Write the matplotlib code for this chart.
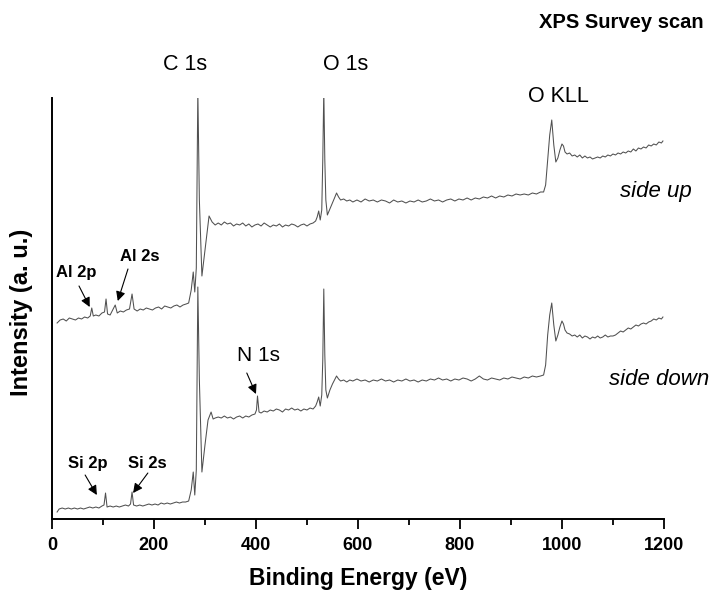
import matplotlib.pyplot as plt
import numpy as np

plt.rcParams['font.family'] = ['Liberation Sans', 'DejaVu Sans']

# (binding energy eV, intensity a.u.)
side_up = [
    (10, 197), (16, 200), (22, 201), (28, 199), (34, 202), (40, 201), (46, 200), (52, 202),
    (58, 201), (64, 203), (70, 202), (75, 204), (78, 212), (81, 204), (86, 205), (92, 204),
    (98, 207), (103, 208), (106, 221), (109, 206), (114, 205), (119, 210), (124, 215),
    (128, 207), (134, 209), (140, 208), (146, 210), (152, 211), (157, 226), (161, 211),
    (167, 209), (173, 211), (179, 210), (185, 212), (191, 211), (197, 210), (203, 212),
    (209, 213), (215, 211), (221, 214), (227, 213), (233, 212), (239, 214), (245, 215),
    (251, 213), (257, 215), (263, 216), (268, 217), (273, 230), (277, 248), (280, 228),
    (283, 252), (286, 430), (289, 320), (294, 244), (300, 270), (308, 304), (314, 298),
    (320, 295), (326, 297), (332, 295), (338, 298), (344, 296), (350, 297), (356, 294),
    (362, 296), (368, 295), (374, 297), (380, 294), (386, 296), (392, 293), (398, 295),
    (404, 296), (410, 294), (416, 297), (422, 295), (428, 293), (434, 295), (440, 294),
    (446, 296), (452, 293), (458, 295), (464, 294), (470, 296), (476, 295), (482, 293),
    (488, 295), (494, 296), (500, 294), (506, 296), (512, 297), (517, 299), (520, 303),
    (523, 309), (526, 300), (529, 310), (531, 360), (533, 430), (535, 360), (537, 320),
    (540, 305), (545, 311), (550, 317), (554, 322), (558, 327), (562, 323), (566, 320),
    (572, 321), (578, 319), (584, 320), (590, 318), (598, 320), (606, 318), (614, 321),
    (622, 319), (630, 320), (638, 318), (646, 320), (654, 319), (662, 317), (670, 320),
    (678, 318), (686, 319), (694, 317), (702, 319), (710, 318), (718, 320), (726, 318),
    (734, 319), (742, 321), (750, 319), (758, 320), (766, 318), (774, 320), (782, 321),
    (790, 319), (798, 321), (806, 320), (814, 322), (822, 320), (830, 322), (838, 321),
    (846, 323), (854, 322), (862, 324), (870, 322), (878, 324), (886, 323), (894, 325),
    (902, 324), (910, 326), (918, 325), (926, 326), (934, 325), (942, 327), (950, 326),
    (958, 328), (964, 328), (968, 335), (972, 360), (976, 385), (980, 400), (984, 375),
    (988, 358), (992, 362), (996, 370), (1000, 376), (1003, 374), (1006, 368), (1010, 366),
    (1015, 367), (1020, 364), (1025, 365), (1030, 363), (1035, 365), (1040, 362),
    (1045, 364), (1050, 362), (1055, 363), (1060, 361), (1065, 362), (1070, 363),
    (1075, 362), (1080, 364), (1085, 363), (1090, 365), (1095, 364), (1100, 366),
    (1105, 365), (1110, 367), (1115, 366), (1120, 368), (1125, 367), (1130, 369),
    (1135, 368), (1140, 371), (1145, 369), (1150, 372), (1155, 371), (1160, 373),
    (1165, 372), (1170, 375), (1175, 374), (1180, 376), (1185, 375), (1190, 378),
    (1195, 377), (1198, 379),
]

side_down = [
    (10, 8), (14, 11), (20, 12), (26, 11), (32, 12), (38, 11), (44, 12), (50, 11), (56, 12),
    (62, 11), (68, 12), (74, 13), (80, 12), (86, 13), (92, 12), (98, 14), (102, 15),
    (105, 27), (108, 13), (114, 14), (120, 13), (126, 14), (132, 13), (138, 14), (144, 15),
    (150, 14), (154, 16), (157, 28), (160, 15), (166, 14), (172, 15), (178, 14), (184, 15),
    (190, 16), (196, 15), (202, 16), (208, 15), (214, 17), (220, 16), (226, 17), (232, 16),
    (238, 17), (244, 18), (250, 17), (256, 18), (262, 18), (268, 19), (273, 30), (277, 48),
    (280, 25), (283, 50), (286, 233), (289, 140), (294, 48), (300, 75), (306, 100),
    (312, 108), (316, 101), (320, 102), (326, 103), (332, 102), (338, 104), (344, 102),
    (350, 103), (356, 101), (362, 103), (368, 104), (374, 102), (380, 104), (386, 103),
    (392, 105), (398, 106), (401, 110), (403, 124), (406, 108), (410, 107), (416, 109),
    (422, 108), (428, 110), (434, 109), (440, 111), (446, 110), (452, 108), (458, 111),
    (464, 110), (470, 112), (476, 110), (482, 111), (488, 109), (494, 111), (500, 110),
    (506, 112), (512, 111), (517, 114), (520, 118), (523, 123), (526, 114), (529, 125),
    (531, 160), (533, 231), (535, 165), (537, 130), (540, 122), (545, 130), (550, 136),
    (554, 140), (558, 144), (562, 141), (566, 139), (572, 140), (578, 138), (584, 140),
    (590, 139), (598, 141), (606, 139), (614, 140), (622, 138), (630, 140), (638, 139),
    (646, 141), (654, 139), (662, 140), (670, 138), (678, 140), (686, 139), (694, 141),
    (702, 139), (710, 140), (718, 138), (726, 140), (734, 139), (742, 141), (750, 140),
    (758, 142), (766, 140), (774, 141), (782, 139), (790, 141), (798, 140), (806, 142),
    (814, 141), (822, 139), (830, 141), (838, 144), (846, 141), (854, 140), (862, 142),
    (870, 141), (878, 140), (886, 142), (894, 141), (902, 143), (910, 142), (918, 141),
    (926, 143), (934, 142), (942, 144), (950, 143), (958, 144), (964, 145), (968, 155),
    (972, 185), (976, 205), (980, 217), (984, 195), (988, 179), (992, 185), (996, 193),
    (1000, 199), (1003, 196), (1006, 190), (1010, 187), (1015, 186), (1020, 184),
    (1025, 185), (1030, 183), (1035, 185), (1040, 182), (1045, 184), (1050, 183),
    (1055, 181), (1060, 183), (1065, 182), (1070, 184), (1075, 182), (1080, 183),
    (1085, 185), (1090, 183), (1095, 184), (1100, 184), (1105, 185), (1110, 187),
    (1115, 189), (1120, 188), (1125, 190), (1130, 192), (1135, 191), (1140, 193),
    (1145, 195), (1150, 194), (1155, 196), (1160, 197), (1165, 196), (1170, 198),
    (1175, 199), (1180, 201), (1185, 200), (1190, 202), (1195, 201), (1198, 203),
]

# big peak labels: (text, energy, intensity)
peak_names = [('C 1s', 261, 455), ('O 1s', 575, 455), ('O KLL', 994, 423)]
# small peaks with arrows: (text, text pos, arrow start, arrow tip)
arrow_labels = [
    ('Al 2p', (47, 247), (53, 234), (74, 213)),
    ('Al 2s', (172, 263), (149, 251), (129, 219)),
    ('Si 2p', (71, 57), (65, 45), (88, 25)),
    ('Si 2s', (186, 57), (188, 47), (159, 27)),
]
n1s_label = ('N 1s', (404, 165), (382, 147), (400, 126))
sample_names = [('side up', 1184, 328), ('side down', 1190, 141)]

fig = plt.figure(figsize=(7.16, 5.91), dpi=100)
ax = fig.add_axes([0.0726, 0.1218, 0.8547, 0.7124])

for trace in (side_up, side_down):
    energy, counts = np.array(trace).T
    ax.plot(energy, counts, color='#505050', lw=0.75)

ax.set_xlim(0, 1200)
ax.set_ylim(1, 422)
ax.spines['top'].set_visible(False)
ax.spines['right'].set_visible(False)
ax.spines['left'].set_linewidth(1.4)
ax.spines['bottom'].set_linewidth(1.4)
ax.set_yticks([])
ax.set_xticks(range(0, 1201, 200))
ax.set_xticks(range(100, 1200, 200), minor=True)
ax.tick_params(axis='x', which='major', direction='out', length=7, width=1.3,
               labelsize=13, pad=6)
ax.tick_params(axis='x', which='minor', direction='out', length=4, width=1.3)
for lbl in ax.get_xticklabels():
    lbl.set_fontweight('bold')

for name, e, c in peak_names:
    ax.text(e, c, name, fontsize=15.5, ha='center', va='center', clip_on=False)

arrow_style = dict(arrowstyle='-|>', color='black', lw=0.8,
                   mutation_scale=14, shrinkA=0, shrinkB=0)
for name, txt, start, tip in arrow_labels:
    ax.text(txt[0], txt[1], name, fontsize=12, fontweight='bold',
            ha='center', va='center')
    ax.annotate('', xy=tip, xytext=start, arrowprops=arrow_style)

ax.text(n1s_label[1][0], n1s_label[1][1], n1s_label[0], fontsize=15,
        ha='center', va='center')
ax.annotate('', xy=n1s_label[3], xytext=n1s_label[2], arrowprops=arrow_style)

for name, e, c in sample_names:
    ax.text(e, c, name, fontsize=16, style='italic', ha='center', va='center',
            clip_on=False)

fig.text(621 / 716, 1 - 22 / 591, 'XPS Survey scan', fontsize=14.5, fontweight='bold',
         ha='center', va='center')
fig.text(358 / 716, 1 - 578 / 591, 'Binding Energy (eV)', fontsize=16.5,
         fontweight='bold', ha='center', va='center')
fig.text(22 / 716, 1 - 312 / 591, 'Intensity (a. u.)', fontsize=17,
         fontweight='bold', ha='center', va='center', rotation=90)

fig.savefig('out.png', dpi=100)
